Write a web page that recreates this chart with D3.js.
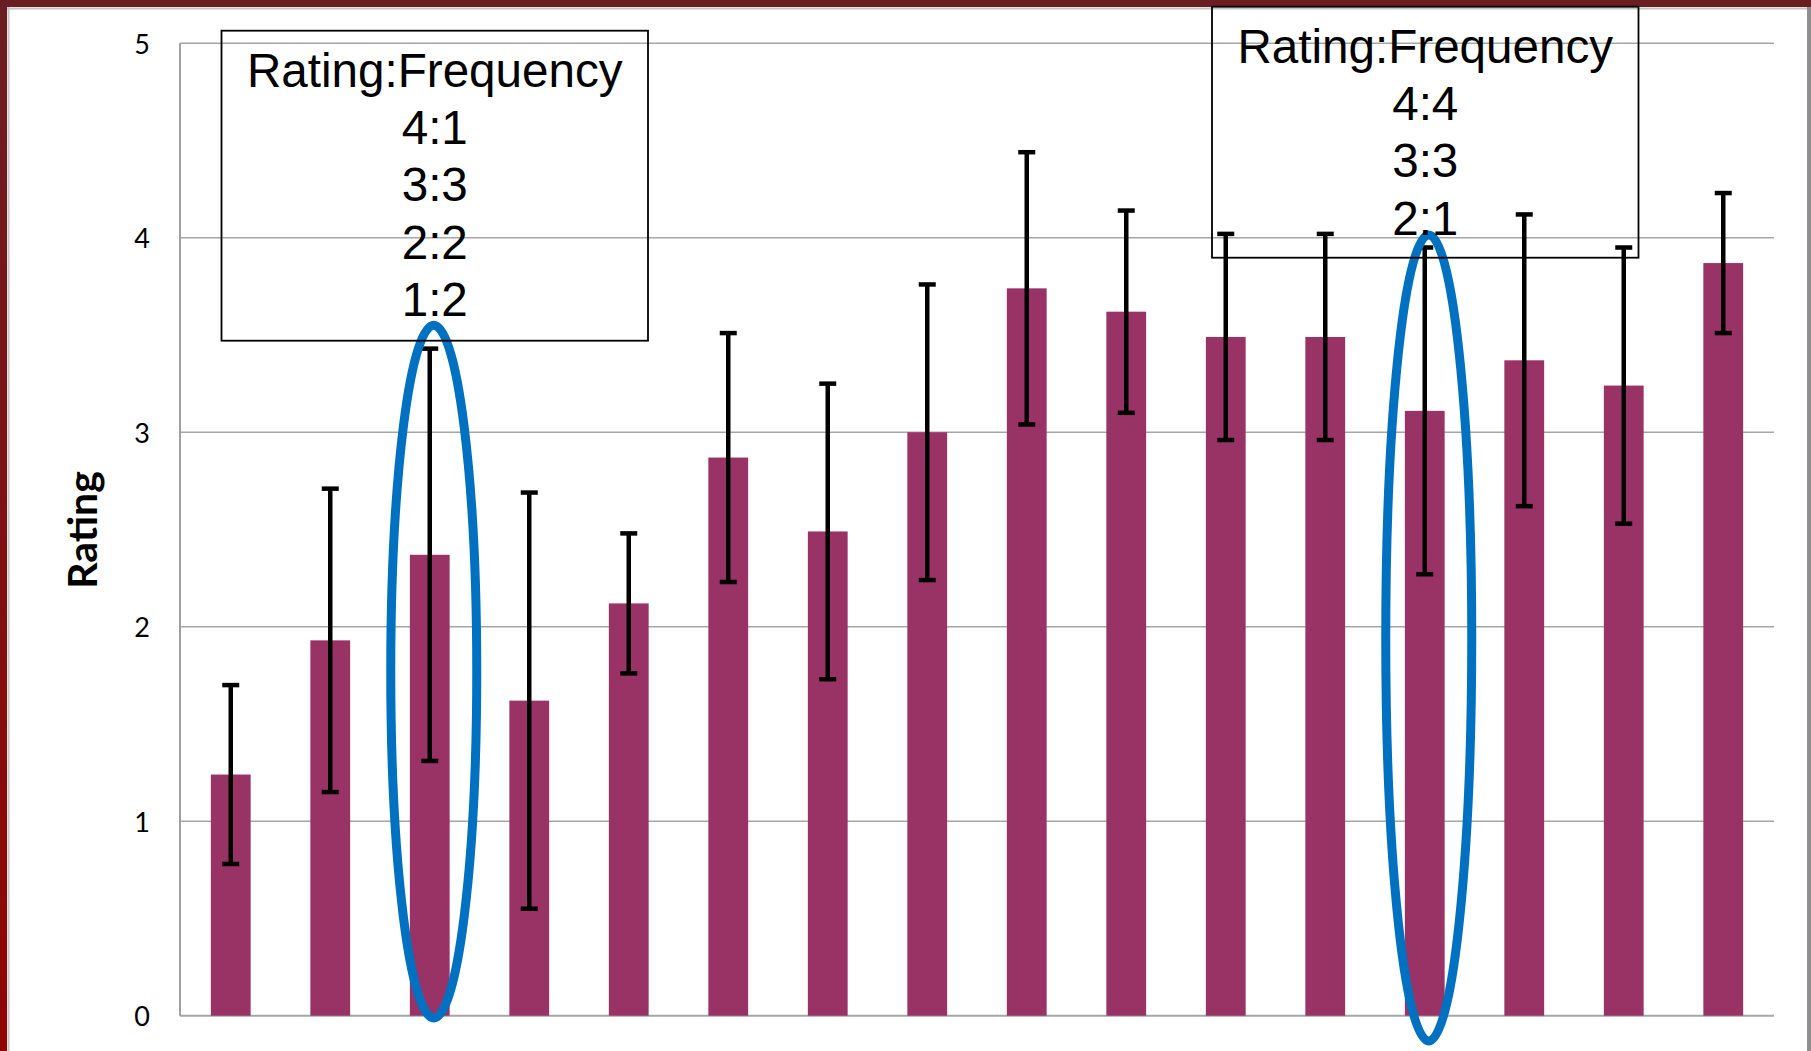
<!DOCTYPE html>
<html>
<head>
<meta charset="utf-8">
<script src="https://cdn.jsdelivr.net/npm/d3@7"></script>
<style>
html,body{margin:0;padding:0;background:#fff;}
svg{display:block;}
</style>
</head>
<body>
<svg id="chart" width="1811" height="1051"></svg>
<script>
// ---- data ----
const categories = ["1","2","3","4","5","6","7","8","9","10","11","12","13","14","15","16"];
const means  = [1.24, 1.93, 2.37, 1.62, 2.12, 2.87, 2.49, 3.00, 3.74, 3.62, 3.49, 3.49, 3.11, 3.37, 3.24, 3.87];
const errors = [0.46, 0.78, 1.06, 1.07, 0.36, 0.64, 0.76, 0.76, 0.70, 0.52, 0.53, 0.53, 0.84, 0.75, 0.71, 0.36];
const yTicks = [0, 1, 2, 3, 4, 5];
const yTitle = "Rating";
const note1Lines = ["Rating:Frequency", "4:1", "3:3", "2:2", "1:2"];
const note2Lines = ["Rating:Frequency", "4:4", "3:3", "2:1"];
const note1Category = "3";
const note2Category = "13";
// ellipse extents in data units (rating)
const ellipse1Range = [-0.012, 3.55];
const ellipse2Range = [-0.13, 4.014];

// ---- layout ----
const svg = d3.select("#chart");
const W = 1811, H = 1051;
const axisLeft = 180, axisRight = 1774;

const x = d3.scaleBand().domain(categories).range([181, 1773]).paddingInner(0.6).paddingOuter(0.3);
const y = d3.scaleLinear().domain([0, 5]).range([1015.7, 43.3]);

// frame
const defs = svg.append("defs");
const grad = defs.append("linearGradient").attr("id","lg").attr("x1",0).attr("y1",0).attr("x2",0).attr("y2",1);
grad.append("stop").attr("offset","0%").attr("stop-color","#6a1e22");
grad.append("stop").attr("offset","100%").attr("stop-color","#920505");
svg.append("rect").attr("width",W).attr("height",H).attr("fill","#fff");
svg.append("line").attr("x1",8.5).attr("x2",8.5).attr("y1",7).attr("y2",H).attr("stroke","#c4c4c4").attr("stroke-width",2);
svg.append("line").attr("x1",7).attr("x2",W).attr("y1",8.5).attr("y2",8.5).attr("stroke","#c4c4c4").attr("stroke-width",2);
svg.append("line").attr("x1",1809).attr("x2",1809).attr("y1",7).attr("y2",H).attr("stroke","#8e8e8e").attr("stroke-width",4);
svg.append("rect").attr("x",0).attr("y",0).attr("width",7).attr("height",H).attr("fill","url(#lg)");
svg.append("rect").attr("x",0).attr("y",0).attr("width",W).attr("height",7).attr("fill","#6a1e22");

// gridlines
svg.append("g").selectAll("line").data(yTicks).join("line")
  .attr("x1", axisLeft).attr("x2", axisRight)
  .attr("y1", d => y(d)).attr("y2", d => y(d))
  .attr("stroke", "#a6a6a6").attr("stroke-width", d => d === 0 ? 2 : 1.6);

// y axis line
svg.append("line").attr("x1", axisLeft).attr("x2", axisLeft)
  .attr("y1", y(5)).attr("y2", y(0)).attr("stroke", "#a0a0a0").attr("stroke-width", 2);

// tick labels
svg.append("g").selectAll("text").data(yTicks).join("text")
  .attr("x", 150).attr("y", d => y(d))
  .attr("text-anchor", "end").attr("dominant-baseline", "central")
  .attr("font-family", "Lato, 'Open Sans', sans-serif").attr("font-size", 27)
  .attr("fill", "#000")
  .text(d => d);

// y title
svg.append("text")
  .attr("transform", "translate(97,530) rotate(-90)")
  .attr("text-anchor", "middle")
  .attr("font-family", "Lato, 'Open Sans', sans-serif").attr("font-weight", "bold").attr("font-size", 41)
  .attr("fill", "#000")
  .text(yTitle);

// bars
const rows = categories.map((c, i) => ({c, m: means[i], e: errors[i]}));
svg.append("g").selectAll("rect").data(rows).join("rect")
  .attr("x", d => x(d.c)).attr("width", x.bandwidth())
  .attr("y", d => y(d.m)).attr("height", d => y(0) - y(d.m))
  .attr("fill", "#993366");

// error bars
const eb = svg.append("g").attr("stroke", "#000").attr("stroke-width", 4.5);
const cx = c => x(c) + x.bandwidth() / 2;
eb.selectAll("line.stem").data(rows).join("line").attr("class","stem")
  .attr("x1", d => cx(d.c)).attr("x2", d => cx(d.c))
  .attr("y1", d => y(d.m + d.e)).attr("y2", d => y(d.m - d.e));
eb.selectAll("line.capT").data(rows).join("line").attr("class","capT")
  .attr("x1", d => cx(d.c) - 8.5).attr("x2", d => cx(d.c) + 8.5)
  .attr("y1", d => y(d.m + d.e)).attr("y2", d => y(d.m + d.e));
eb.selectAll("line.capB").data(rows).join("line").attr("class","capB")
  .attr("x1", d => cx(d.c) - 8.5).attr("x2", d => cx(d.c) + 8.5)
  .attr("y1", d => y(d.m - d.e)).attr("y2", d => y(d.m - d.e));

// annotation boxes
function note(cat, lines, top, height, dx) {
  const center = cx(cat) + dx;
  const bw = 426.5;
  const g = svg.append("g");
  g.append("rect").attr("x", center - bw/2).attr("y", top).attr("width", bw).attr("height", height)
    .attr("fill", "none").attr("stroke", "#000").attr("stroke-width", 1.8);
  return {g, center, top};
}
const n1 = note(note1Category, note1Lines, 30.7, 310, 5);
const n2 = note(note2Category, note2Lines, 6.7, 251, 0.5);

// ellipses
function ell(cat, range) {
  svg.append("ellipse")
    .attr("cx", cx(cat) + 4)
    .attr("cy", (y(range[0]) + y(range[1])) / 2)
    .attr("rx", 43)
    .attr("ry", (y(range[0]) - y(range[1])) / 2)
    .attr("fill", "none").attr("stroke", "#0070c0").attr("stroke-width", 9);
}
ell(note1Category, ellipse1Range);
ell(note2Category, ellipse2Range);

// annotation texts
function noteText(n, lines) {
  n.g.raise();
  n.g.selectAll("text").data(lines).join("text")
    .attr("x", n.center).attr("y", (d, i) => n.top + 56 + i * 57.3)
    .attr("text-anchor", "middle")
    .attr("font-family", "'Liberation Sans', Arial, sans-serif").attr("font-size", 47.6)
    .attr("fill", "#000")
    .text(d => d);
}
noteText(n1, note1Lines);
noteText(n2, note2Lines);
</script>
</body>
</html>
